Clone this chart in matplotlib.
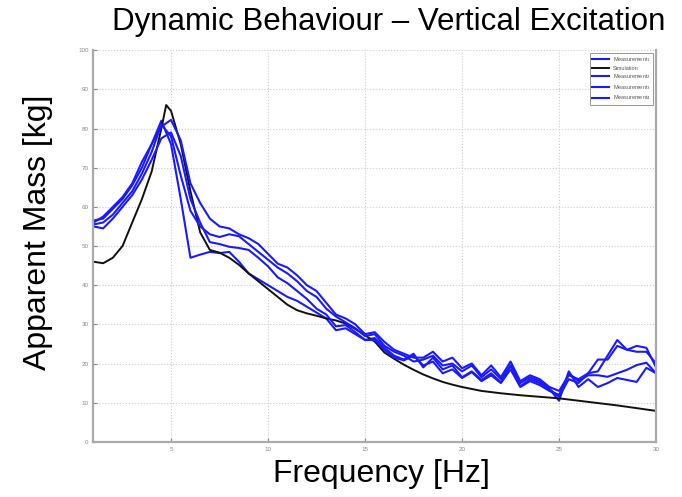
import numpy as np
import matplotlib.pyplot as plt

plt.rcParams['font.family'] = ['Liberation Sans', 'DejaVu Sans']

# frequency grid for the measurements [Hz]
freq = np.arange(1.0, 30.01, 0.5)

meas_1 = [56.5, 57, 59.5, 62, 65.5, 70, 76, 82, 76, 62,
          47, 47.8, 48.5, 48.2, 48.5, 46, 43, 41.5, 40, 38.5,
          37, 36, 34.5, 33, 31.5, 28.5, 29, 27.5, 26, 26.5,
          24, 22, 21, 22.5, 19, 21.5, 18.5, 19.5, 16.5, 18,
          15.8, 17.5, 15.2, 19.5, 14.2, 16, 15, 13.5, 10.5, 18,
          14, 16, 14, 15, 16.3, 15.8, 15.3, 18.9, 17.5]
meas_2 = [56, 57.5, 60, 62.5, 66, 71.5, 76, 80.5, 82.2, 77,
          66, 61, 57, 55, 54.5, 53, 52, 50.5, 48, 45.5,
          44.5, 42.5, 40, 38.5, 35.5, 32.5, 31.5, 30, 27.5, 28,
          25.5, 23.5, 22.5, 21.5, 21.5, 23, 20.5, 21.5, 18.8, 20,
          17, 19.5, 16.5, 20.5, 15.5, 17, 16, 14, 13, 17,
          16, 17.5, 18, 22, 26, 23.5, 24.5, 24, 19]
meas_3 = [55.5, 56, 58, 61, 64, 68.5, 74, 81, 78, 68,
          59, 55, 53, 52.3, 53, 52.5, 50.5, 48.5, 46.5, 44.5,
          43, 41, 38.5, 37, 34, 32, 30.5, 29, 27, 27.5,
          24.5, 23, 22, 20.5, 21, 22, 19.5, 20, 18, 19.5,
          16.5, 18.5, 16, 19.5, 15, 16.5, 15.5, 13.5, 11.5, 16,
          15, 17.5, 21, 21, 24.5, 23.5, 23, 23, 20]
meas_4 = [55, 54.5, 57, 60, 63, 67, 72, 77.5, 79, 73,
          62, 56, 51, 50.5, 49.8, 49.5, 49, 47, 44.8, 42,
          40.5, 38.5, 36.5, 34, 32.5, 29.5, 29.8, 28, 26, 26,
          23.5, 21.5, 20.8, 22, 19.5, 20.5, 17.5, 18.5, 16.3, 17.8,
          15.5, 17, 15, 18.5, 14, 15.5, 14.5, 13, 12, 17.5,
          15.5, 17, 17, 16.6, 17.5, 18.4, 19.6, 20.2, 17.5]

sim_freq = [1, 1.5, 2, 2.5, 3, 3.5, 4, 4.5, 4.75, 5, 5.5, 6, 6.5, 7, 7.5, 8,
            8.5, 9, 9.5, 10, 10.5, 11, 11.5, 12, 12.5, 13, 13.5, 14, 14.5,
            15, 15.5, 16, 16.5, 17, 17.5, 18, 18.5, 19, 19.5, 20, 21, 22,
            23, 24, 25, 26, 27, 28, 29, 30]
sim_mass = [46, 45.6, 47, 50, 56, 62, 69, 80, 86, 84.5, 76, 64, 53.5, 49,
            48.3, 47, 45.2, 43, 41, 39, 37, 35, 33.6, 32.8, 32.2, 31.5, 31,
            30.2, 28.8, 27.2, 25.6, 22.8, 21.2, 19.7, 18.4, 17.2, 16.2, 15.3,
            14.6, 14, 13, 12.4, 11.9, 11.5, 11.1, 10.5, 9.9, 9.3, 8.6, 7.9]

fig = plt.figure(figsize=(6.82, 4.97), dpi=100)
ax = fig.add_axes([0.137, 0.111, 0.825, 0.788])

blue = '#1a1aff'
ax.plot(freq, meas_1, color=blue, linewidth=1.5, label='Measurement$_1$')
ax.plot(sim_freq, sim_mass, color='#111111', linewidth=1.4, label='Simulation')
ax.plot(freq, meas_2, color=blue, linewidth=1.5, label='Measurement$_2$')
ax.plot(freq, meas_3, color=blue, linewidth=1.5, label='Measurement$_3$')
ax.plot(freq, meas_4, color=blue, linewidth=1.5, label='Measurement$_4$')

ax.set_xlim(1, 30)
ax.set_ylim(0, 100)
ax.set_xticks([5, 10, 15, 20, 25, 30])
ax.set_yticks(np.arange(0, 101, 10))
ax.tick_params(labelsize=4.5, colors='#888888', direction='in', length=3, width=0.8)
ax.grid(True, linestyle=':', color='#cccccc', linewidth=0.8)
for side in ['left', 'bottom', 'right']:
    ax.spines[side].set_color('#aaaaaa')
    ax.spines[side].set_linewidth(1.6)
ax.spines['top'].set_visible(False)

leg = ax.legend(loc='upper right', fontsize=4, handlelength=3, labelspacing=0.3,
                fancybox=False, framealpha=1, borderpad=0.4)
leg.get_frame().set_edgecolor('#888888')
leg.get_frame().set_linewidth(0.6)
for t in leg.get_texts():
    t.set_color('#555555')

fig.text(0.57, 0.956, 'Dynamic Behaviour \u2013 Vertical Excitation', fontsize=22.5,
         ha='center', va='center')
fig.text(0.559, 0.046, 'Frequency [Hz]', fontsize=23, ha='center', va='center')
fig.text(0.056, 0.533, 'Apparent Mass [kg]', fontsize=23, ha='center', va='center',
         rotation=90)

fig.savefig('out.png', dpi=100)
